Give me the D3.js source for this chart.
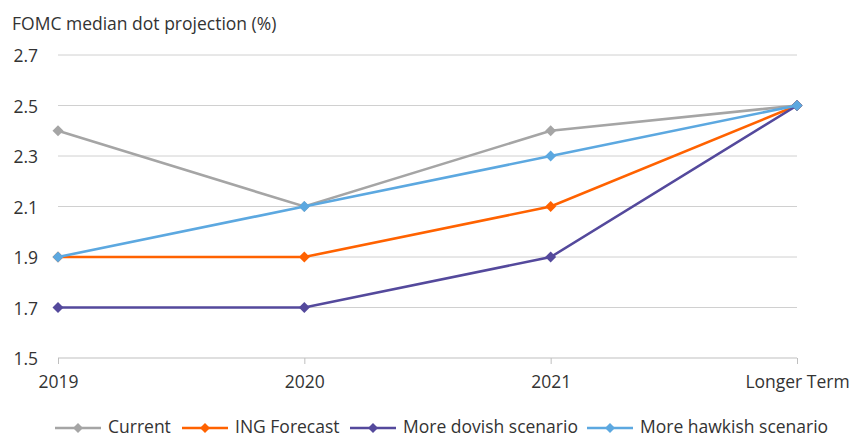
<!DOCTYPE html>
<html><head><meta charset="utf-8">
<script src="https://cdn.jsdelivr.net/npm/d3@7"></script>
<style>body{margin:0;background:#fff;} text{font-family:"Open Sans",sans-serif;fill:#333;}</style>
</head><body>
<svg id="c" width="851" height="437"></svg>
<script>
const categories = ["2019","2020","2021","Longer Term"];
const seriesNames = ["Current","ING Forecast","More dovish scenario","More hawkish scenario"];
const current = [2.4, 2.1, 2.4, 2.5];
const ingForecast = [1.9, 1.9, 2.1, 2.5];
const dovish = [1.7, 1.7, 1.9, 2.5];
const hawkish = [1.9, 2.1, 2.3, 2.5];
const yTicks = [1.5, 1.7, 1.9, 2.1, 2.3, 2.5, 2.7];
const colors = ["#A5A5A5","#FF6200","#54499C","#5CA8E0"];

const FS = "17.5px";
const series = [current, ingForecast, dovish, hawkish].map((v,i)=>({name:seriesNames[i], values:v, color:colors[i]}));

const svg = d3.select("#c");
const x = d3.scalePoint().domain(categories).range([58,797]).padding(0);
const y = d3.scaleLinear().domain([1.5,2.7]).range([358,55]);

svg.append("text").attr("x",12).attr("y",30).style("font-size",FS).text("FOMC median dot projection (%)");

// gridlines
svg.append("g").selectAll("line").data(yTicks.slice(1)).join("line")
  .attr("x1",58).attr("x2",797).attr("y1",d=>y(d)).attr("y2",d=>y(d))
  .attr("stroke","#D0D0D0").attr("stroke-width",1);

svg.append("g").selectAll("text").data(yTicks).join("text")
  .attr("x",38).attr("y",d=>y(d)+7).attr("text-anchor","end").style("font-size",FS)
  .text(d=>d.toFixed(1));

const xAxis = svg.append("g").attr("transform","translate(0,358)")
  .call(d3.axisBottom(x).tickSize(6).tickPadding(10));
xAxis.select(".domain").attr("stroke","#BFBFBF").attr("stroke-width",1.2).attr("d","M58,0H797");
xAxis.selectAll(".tick line").attr("stroke","#BFBFBF");
xAxis.selectAll(".tick text").style("font-size",FS).attr("fill","#333")
  .style("font-family","'Open Sans',sans-serif").attr("y",30).attr("dy",null);

const line = d3.line().x((d,i)=>x(categories[i])).y(d=>y(d));

series.forEach(s=>{
  const g = svg.append("g");
  g.append("path").attr("d",line(s.values)).attr("fill","none").attr("stroke",s.color).attr("stroke-width",2.6);
  g.selectAll("path.m").data(s.values).join("path").attr("class","m")
    .attr("transform",(d,i)=>`translate(${x(categories[i])},${y(d)}) rotate(45)`)
    .attr("d",d3.symbol().type(d3.symbolSquare).size(60)).attr("fill",s.color);
});

// legend
const legX = [55,182,350,587];
const lg = svg.append("g");
series.forEach((s,i)=>{
  const g = lg.append("g").attr("transform",`translate(${legX[i]},428)`);
  g.append("line").attr("x1",0).attr("x2",46).attr("stroke",s.color).attr("stroke-width",2.6);
  g.append("path").attr("transform","translate(23,0) rotate(45)").attr("d",d3.symbol().type(d3.symbolSquare).size(50)).attr("fill",s.color);
  g.append("text").attr("x",53).attr("y",4.5).style("font-size",FS).text(s.name);
});
</script>
</body></html>
